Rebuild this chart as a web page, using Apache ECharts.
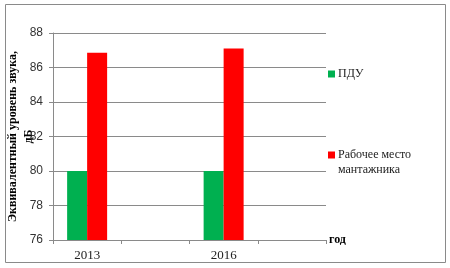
<!DOCTYPE html>
<html><head><meta charset="utf-8">
<script src="https://cdn.jsdelivr.net/npm/echarts@6/dist/echarts.min.js"></script>
<style>html,body{margin:0;padding:0;background:#fff}#c{width:450px;height:268px}</style>
</head><body><div id="c"></div>
<script>
const categories = ['2013', '', '2016', ''];
const pduValues = [80, null, 80, null];
const workplaceValues = [86.85, null, 87.1, null];
const seriesNames = ['ПДУ', 'Рабочее место мантажника'];
const yTicks = { min: 76, max: 88, interval: 2 };
const yAxisName = 'Эквивалентный уровень звука,\nдБ';
const xAxisName = 'год';

const chart = echarts.init(document.getElementById('c'), null, {renderer: 'canvas'});
const gray = '#8a8a8a';
chart.setOption({
  animation: false,
  grid: {left: 53, right: 124, top: 33, bottom: 28, containLabel: false, outerBoundsMode: 'none'},
  graphic: [{
    type: 'rect', shape: {x: 5.5, y: 4.5, width: 440, height: 258},
    style: {fill: 'none', stroke: gray, lineWidth: 1}, silent: true
  }],
  legend: {
    orient: 'vertical', left: 328, top: 66.5, padding: 0,
    itemWidth: 7, itemHeight: 7, itemGap: 51,
    icon: 'rect',
    data: seriesNames,
    formatter: function (n) { return n === seriesNames[1] ? '\nРабочее место\nмантажника' : n; },
    textStyle: {fontFamily: 'Liberation Serif', fontSize: 12, color: '#222', lineHeight: 15, padding: [0,0,0,-2]}
  },
  xAxis: {
    type: 'category', data: categories,
    name: xAxisName, nameLocation: 'end', nameGap: 3, nameMoveOverlap: false,
    nameTextStyle: {fontFamily: 'Liberation Serif', fontWeight: 'bold', fontSize: 12, color: '#000', padding: [12,0,0,0]},
    axisLine: {lineStyle: {color: gray}},
    axisTick: {show: true, length: 4, alignWithLabel: false, lineStyle: {color: gray}},
    axisLabel: {fontFamily: 'Liberation Serif', fontSize: 13, color: '#222', margin: 9, interval: 0}
  },
  yAxis: {
    type: 'value', min: yTicks.min, max: yTicks.max, interval: yTicks.interval,
    name: yAxisName, nameLocation: 'middle', nameRotate: 90, nameGap: 16, nameMoveOverlap: false,
    nameTextStyle: {fontFamily: 'Liberation Serif', fontWeight: 'bold', fontSize: 12, color: '#000', lineHeight: 16},
    axisLine: {show: true, lineStyle: {color: gray}},
    axisTick: {show: true, length: 4, lineStyle: {color: gray}},
    splitLine: {show: true, lineStyle: {color: gray}},
    axisLabel: {fontFamily: 'Liberation Sans', fontSize: 12, color: '#333', margin: 10}
  },
  series: [
    {name: seriesNames[0], type: 'bar', data: pduValues, barWidth: 20, barGap: '0%', itemStyle: {color: '#00B050'}},
    {name: seriesNames[1], type: 'bar', data: workplaceValues, barWidth: 20, barGap: '0%', itemStyle: {color: '#FF0000'}}
  ]
});
</script></body></html>
